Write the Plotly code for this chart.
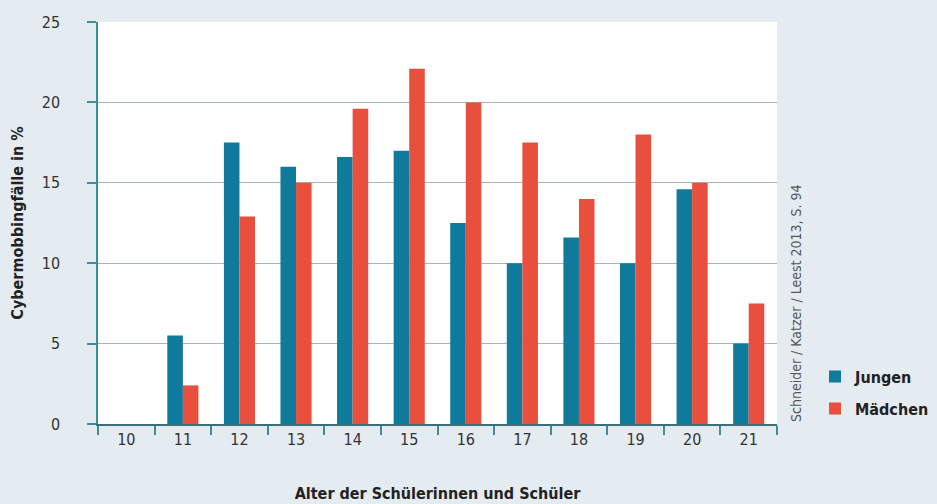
import plotly.graph_objects as go

ages = ["10", "11", "12", "13", "14", "15", "16", "17", "18", "19", "20", "21"]
jungen = [0, 5.5, 17.5, 16.0, 16.6, 17.0, 12.5, 10.0, 11.6, 10.0, 14.6, 5.0]
maedchen = [0, 2.4, 12.9, 15.0, 19.6, 22.1, 20.0, 17.5, 14.0, 18.0, 15.0, 7.5]
y_ticks = [0, 5, 10, 15, 20, 25]

FONT = "DejaVu Sans Condensed, Liberation Sans Narrow, Arial Narrow, Liberation Sans, sans-serif"
AXIS_COL = "#3a8f96"

fig = go.Figure()
fig.add_trace(go.Bar(x=ages, y=jungen, name="Jungen", marker_color="#0f7a9b",
                     marker_line_width=0, legendgroup="a"))
fig.add_trace(go.Bar(x=ages, y=maedchen, name="Mädchen", marker_color="#e94f3d",
                     marker_line_width=0, legendgroup="b"))

fig.update_layout(
    width=937, height=504,
    margin=dict(l=98, r=160, t=22, b=80, autoexpand=False),
    paper_bgcolor="#e4ebf1",
    plot_bgcolor="#ffffff",
    barmode="group",
    bargap=0.45,
    bargroupgap=0,
    font=dict(family=FONT, size=16, color="#333333"),
    showlegend=True,
    legend=dict(x=1.056, y=0.16, xanchor="left", yanchor="top",
                font=dict(size=16, color="#222222", weight="bold"),
                bgcolor="rgba(0,0,0,0)", tracegroupgap=8,
                itemsizing="constant"),
    xaxis=dict(
        type="category",
        tickson="boundaries",
        ticks="outside", ticklen=9, tickcolor=AXIS_COL, tickwidth=1.5,
        showline=True, linecolor="#3d6f78", linewidth=1.5,
        showgrid=False,
        tickfont=dict(size=16, color="#333333"),
        title=dict(text="Alter der Schülerinnen und Schüler",
                   font=dict(size=16, color="#222222", weight="bold"),
                   standoff=40),
    ),
    yaxis=dict(
        range=[0, 25],
        tickvals=y_ticks,
        ticks="outside", ticklen=9, tickcolor=AXIS_COL, tickwidth=1.5,
        showline=True, linecolor=AXIS_COL, linewidth=1.5,
        showgrid=True, gridcolor="#a9b4b8", gridwidth=1,
        zeroline=False,
        ticklabelstandoff=24,
        tickfont=dict(size=16, color="#333333"),
        title=dict(text="Cybermobbingfälle in %",
                   font=dict(size=16, color="#222222", weight="bold"),
                   standoff=14),
    ),
    annotations=[dict(
        text="Schneider / Katzer / Leest 2013, S. 94",
        textangle=-90, xref="paper", yref="paper",
        x=1.0, y=0.0, xanchor="left", yanchor="bottom", xshift=9,
        showarrow=False,
        font=dict(family=FONT, size=14, color="#555555"),
    )],
)

fig.write_html("out.html")
